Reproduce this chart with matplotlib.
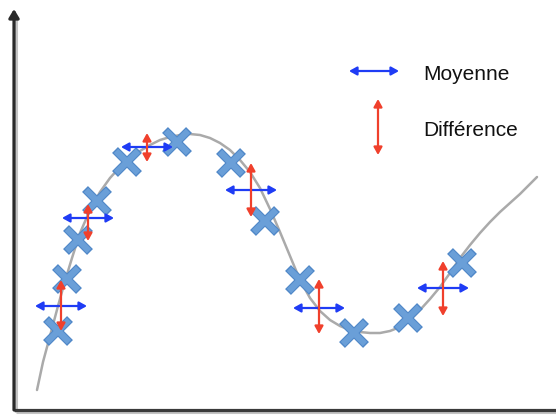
import matplotlib
matplotlib.use("Agg")
import matplotlib.pyplot as plt
from matplotlib.patches import FancyArrowPatch

# Curve (pixel-like coordinates, y downward)
curve_x = [37, 43, 50, 58, 65, 72, 80, 90, 100, 110, 120, 130, 140, 150, 160, 170, 180, 190,
           200, 210, 220, 230, 240, 250, 260, 270, 280, 290, 300, 310, 320, 330, 340, 350,
           360, 370, 380, 390, 400, 410, 420, 430, 440, 450, 460, 470, 480, 490, 500, 510,
           520, 530, 537]
curve_y = [390, 362, 336, 306, 281, 258, 233, 210, 192, 178, 167, 158, 151, 145, 140, 137, 135, 134,
           135, 138, 143, 150, 160, 172, 188, 209, 232, 256, 280, 298, 311, 320, 326, 330,
           332, 333, 333, 331, 327, 320, 310, 299, 287, 273, 258, 245, 233, 222, 212, 203,
           194, 184, 177]

# Data points (crosses)
pts_x = [58, 67, 78, 97, 127, 177, 231, 265, 300, 354, 408, 462]
pts_y = [331, 279, 240, 201, 162, 142, 163, 221, 280, 333, 318, 263]

# Pairs: mean (horizontal arrows) and difference (vertical arrows)
mean_x = [61, 88, 147, 251, 319, 443]
mean_y = [306, 218, 147, 190, 308, 288]
mean_half = [26, 26, 26, 26, 26, 26]
diff_top = [280, 204, 133, 163, 279, 261]
diff_bot = [331, 241, 162, 217, 334, 316]

legend_labels = ["Moyenne", "Différence"]

BLUE = "#1f3cf5"
RED = "#f0402c"
CROSS = "#6a9fd8"
CROSS_EDGE = "#5088c8"

fig = plt.figure(figsize=(5.56, 4.16), dpi=100)
ax = fig.add_axes([0, 0, 1, 1])
ax.set_xlim(0, 556)
ax.set_ylim(416, 0)
ax.axis("off")

# axes with shadow
ax.plot([15.5, 15.5], [16, 411.5], color="#c4c4c4", lw=2.2, zorder=1, solid_capstyle="butt")
ax.plot([15.5, 556], [411.5, 411.5], color="#c4c4c4", lw=2.2, zorder=1, solid_capstyle="butt")
ax.plot([14, 556], [410, 410], color="#3a3a3a", lw=2.3, zorder=2, solid_capstyle="butt")
ax.add_patch(FancyArrowPatch((14, 410), (14, 9), arrowstyle="-|>,head_length=0.5,head_width=0.3",
                             mutation_scale=10, color="#2a2a2a", lw=2.3, zorder=2,
                             shrinkA=0, shrinkB=0))

# curve
ax.plot(curve_x, curve_y, color="#aaaaaa", lw=1.8, zorder=3, solid_capstyle="round")

# crosses
ax.plot(pts_x, pts_y, ls="none", marker="x", ms=17.5, mew=6.0, color=CROSS_EDGE, zorder=4)
ax.plot(pts_x, pts_y, ls="none", marker="x", ms=16.5, mew=4.4, color=CROSS, zorder=5)


def arrow(p0, p1, color):
    ax.add_patch(FancyArrowPatch(p0, p1, arrowstyle="<|-|>,head_length=0.45,head_width=0.25",
                                 mutation_scale=10, color=color, lw=1.6, zorder=6,
                                 shrinkA=0, shrinkB=0))


for mx, my, hw, t, b in zip(mean_x, mean_y, mean_half, diff_top, diff_bot):
    arrow((mx - hw, my), (mx + hw, my), BLUE)
    arrow((mx, t), (mx, b), RED)

# legend
arrow((349, 71), (399, 71), BLUE)
arrow((378, 99), (378, 155), RED)
ax.text(423, 75, legend_labels[0], fontsize=15, family="Liberation Sans", va="center", ha="left",
        color="#111111")
ax.text(423, 130, legend_labels[1], fontsize=15, family="Liberation Sans", va="center", ha="left",
        color="#111111")

fig.savefig("out.png", dpi=100)
